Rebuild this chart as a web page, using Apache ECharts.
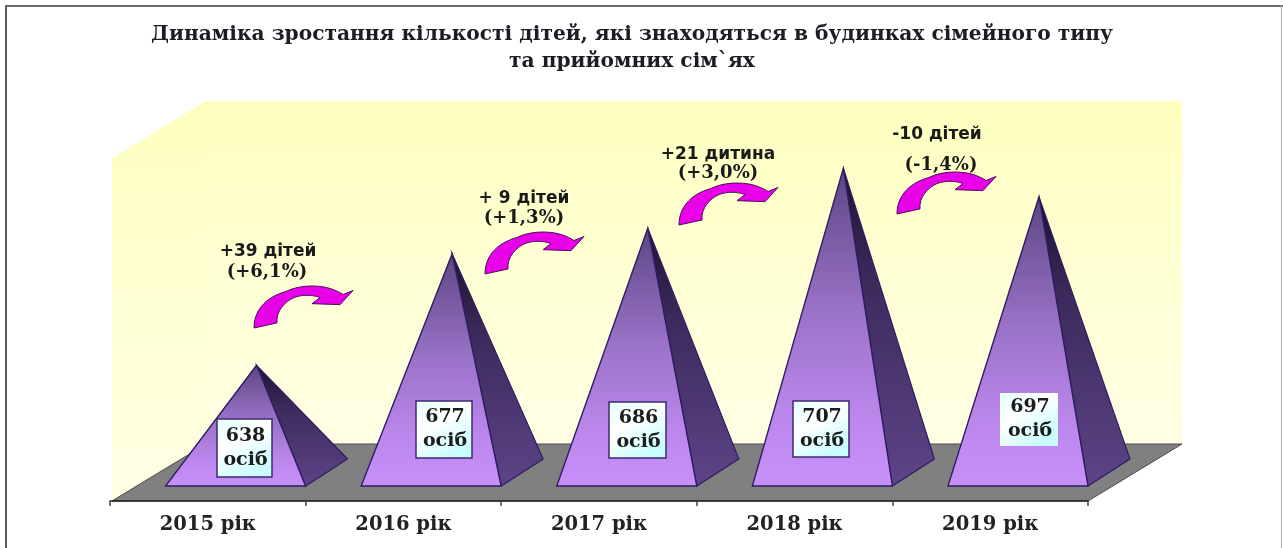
<!DOCTYPE html>
<html>
<head>
<meta charset="utf-8">
<style>html,body{margin:0;padding:0;background:#fff}#c{width:1283px;height:548px}</style>
<script src="https://cdn.jsdelivr.net/npm/echarts@6/dist/echarts.min.js"></script>
</head>
<body>
<div id="c"></div>
<script>
// --- data ---
const categories = ['2015 рік', '2016 рік', '2017 рік', '2018 рік', '2019 рік'];
const people = [638, 677, 686, 707, 697];
const unitWord = 'осіб';
const changeCount = ['+39 дітей', '+ 9 дітей', '+21 дитина', '-10 дітей'];
const changePercent = ['(+6,1%)', '(+1,3%)', '(+3,0%)', '(-1,4%)'];
const titleText = 'Динаміка зростання кількості дітей, які знаходяться в будинках сімейного типу\nта прийомних сім`ях';

// --- layout (not data) ---
const SERIF = '"DejaVu Serif","Liberation Serif",serif';
const SANS = '"DejaVu Sans","Liberation Sans",sans-serif';
const AXIS_MIN = 590.5, AXIS_MAX = 730.5;
const boxes = [[217, 419, 55, 58, 1], [416, 401, 56, 57, 1], [609, 402, 57, 56, 1], [793, 401, 56, 56, 1], [1000, 393, 58, 53, 0]];
const arrowAt = [[254, 328], [485, 274], [679, 225], [897, 214]];
const countAt = [[268, 252], [524, 199], [718, 155], [937, 135]];
const pctAt = [[267, 272], [524, 218], [718, 173], [941, 165]];
const arrowPath = 'M0 42 C0 26 10 12 32 6 C44 0 62 -1 76 3 C82 5 86 7 89 9 L99 5 L86 19 L58 18 L66 12 C58 9 48 9 40 12 C31 16 22 25 23 37 Z';

function vgrad(stops) {
  return { type: 'linear', x: 0, y: 0, x2: 0, y2: 1, colorStops: stops.map((c) => ({ offset: c[0], color: c[1] })) };
}

function renderScene(params, api) {
  const cs = params.coordSys;
  const L = cs.x + 2, R = cs.x + cs.width, T = cs.y, B = cs.y + cs.height;
  const dx = 94, dy = -57, topOff = 57;
  const wall = vgrad([[0, '#feffbe'], [0.45, '#ffffd2'], [1, '#fffee4']]);
  const arrows = arrowAt.map((p) => ({
    type: 'path', z2: 20,
    shape: { pathData: arrowPath, x: p[0], y: p[1] - 42, width: 99, height: 42, layout: 'cover' },
    style: { fill: '#e800e8', stroke: '#4a1060', lineWidth: 1 }
  }));
  return {
    type: 'group',
    children: [
      { type: 'polygon', shape: { points: [[L + dx, T], [R + dx, T], [R + dx, B + dy], [L + dx, B + dy]] }, style: { fill: wall } },
      { type: 'polygon', shape: { points: [[L, T + topOff], [L + dx, T], [L + dx, B + dy], [L, B]] }, style: { fill: wall } },
      { type: 'polygon', shape: { points: [[L, B], [L + dx, B + dy], [R + dx, B + dy], [R, B]] }, style: { fill: '#808080', stroke: '#4a4a4a', lineWidth: 1 } }
    ].concat(arrows)
  };
}

function renderPyramid(params, api) {
  const idx = api.value(0);
  const apexY = api.coord([idx, api.value(1)])[1];
  const c = api.coord([idx, AXIS_MIN]);
  const band = api.size([1, 0])[0];
  const right = c[0] + band / 2;
  const left = right - band * 0.716;
  const baseY = c[1] - 15;
  const ddx = 42, ddy = -27;
  const apexX = (left + right) / 2 + ddx / 2;
  const line = '#2f1c62';
  const b = boxes[idx];
  return {
    type: 'group',
    children: [
      { type: 'polygon', shape: { points: [[apexX, apexY], [right, baseY], [right + ddx, baseY + ddy]] },
        style: { fill: vgrad([[0, '#1e1230'], [0.35, '#3c2a5c'], [1, '#5d4487']]), stroke: line, lineWidth: 1.2 } },
      { type: 'polygon', shape: { points: [[apexX, apexY], [left, baseY], [right, baseY]] },
        style: { fill: vgrad([[0, '#5c4682'], [0.45, '#9a72c8'], [0.8, '#bd88ee'], [1, '#c690f8']]), stroke: line, lineWidth: 1.4 } },
      { type: 'rect', shape: { x: b[0], y: b[1], width: b[2], height: b[3] },
        style: { fill: { type: 'linear', x: 0, y: 0, x2: 0.6, y2: 1, colorStops: [{ offset: 0, color: '#e2ffff' }, { offset: 0.45, color: '#ffffff' }, { offset: 1, color: '#c8fcff' }] },
          stroke: b[4] ? '#3c2a70' : null, lineWidth: 1.5 } },
      { type: 'text', x: b[0] + b[2] / 2 + 1, y: b[1] + b[3] / 2,
        style: { text: api.value(1) + '\n' + unitWord, fill: '#1c1c1c', font: 'bold 19px ' + SERIF, lineHeight: 24, align: 'center', verticalAlign: 'middle' } }
    ]
  };
}

const annotationElements = [];
changeCount.forEach((t, i) => {
  annotationElements.push({
    type: 'text', x: countAt[i][0], y: countAt[i][1], z: 50,
    style: { text: t, fill: '#1a1a1a', font: 'bold 17px ' + SANS, align: 'center', verticalAlign: 'middle' }
  });
});
changePercent.forEach((t, i) => {
  annotationElements.push({
    type: 'text', x: pctAt[i][0], y: pctAt[i][1], z: 50,
    style: { text: t, fill: '#1a1a1a', font: 'bold 18px ' + SERIF, align: 'center', verticalAlign: 'middle' }
  });
});
const frame = [
  { type: 'rect', shape: { x: 5, y: 5, width: 2, height: 543 }, style: { fill: '#5a5a5a' }, z: 60 },
  { type: 'rect', shape: { x: 5, y: 5, width: 1278, height: 2 }, style: { fill: '#6a6a6a' }, z: 60 },
  { type: 'rect', shape: { x: 1281, y: 5, width: 1, height: 543 }, style: { fill: '#b0b0b0' }, z: 60 }
];

const chart = echarts.init(document.getElementById('c'), null, { renderer: 'canvas' });
chart.setOption({
  animation: false,
  backgroundColor: '#ffffff',
  title: {
    text: titleText, left: 627, top: 16, textAlign: 'center',
    textStyle: { fontFamily: SERIF, fontWeight: 'bold', fontSize: 20.2, color: '#1c1c24', lineHeight: 27 }
  },
  grid: { left: 110, right: 195, top: 101, bottom: 47 },
  xAxis: {
    type: 'category', data: categories, z: 10,
    axisLine: { lineStyle: { color: '#222', width: 1.5 } },
    axisTick: { show: true, length: 5, lineStyle: { color: '#444', width: 1.5 } },
    axisLabel: { fontFamily: SERIF, fontWeight: 'bold', fontSize: 19.5, color: '#222', margin: 14 }
  },
  yAxis: { type: 'value', min: AXIS_MIN, max: AXIS_MAX, show: false },
  series: [
    { type: 'custom', silent: true, z: 1, renderItem: renderScene, data: [[0, AXIS_MIN]], encode: { x: 0, y: 1 }, clip: false },
    { type: 'custom', silent: true, z: 2, renderItem: renderPyramid, data: people.map((v, i) => [i, v]), encode: { x: 0, y: 1 }, clip: false }
  ],
  graphic: { elements: annotationElements.concat(frame) }
});
</script>
</body>
</html>
